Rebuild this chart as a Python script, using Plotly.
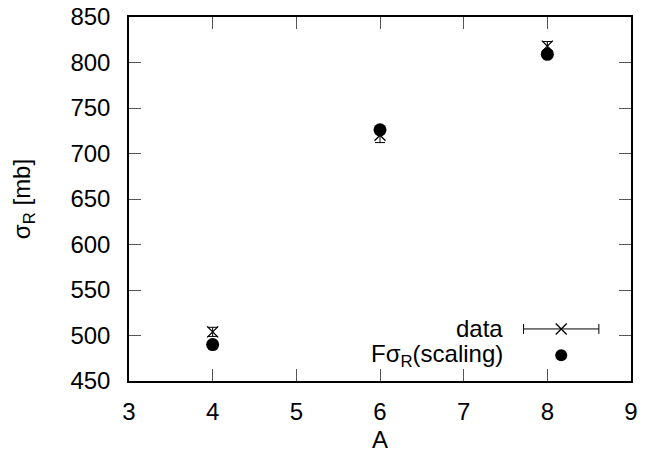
import plotly.graph_objects as go

A = [4, 6, 8]
data_sigma = [504, 720, 818]
data_err = [5, 8, 5]
scaling_sigma = [490, 726, 809]

x_ticks = [3, 4, 5, 6, 7, 8, 9]
y_ticks = [450, 500, 550, 600, 650, 700, 750, 800, 850]

FONT = "Liberation Sans, Arial, sans-serif"
FS = 24

fig = go.Figure()

fig.add_trace(go.Scatter(
    x=A, y=data_sigma, mode="markers",
    marker=dict(symbol="x-thin-open", size=11, line=dict(width=1.3, color="black"), color="black"),
    error_y=dict(type="data", array=data_err, visible=True, color="black", thickness=1, width=5),
    showlegend=False,
))
fig.add_trace(go.Scatter(
    x=A, y=scaling_sigma, mode="markers",
    marker=dict(symbol="circle", size=13, color="black"),
    showlegend=False,
))

# legend samples on an overlay axis (0..1 over the plot area)
fig.add_trace(go.Scatter(
    x=[0.861], y=[0.143], mode="markers", xaxis="x2", yaxis="y2",
    marker=dict(symbol="x-thin-open", size=11, color="black", line=dict(width=1.3, color="black")),
    error_x=dict(type="data", array=[0.075], visible=True, color="black", thickness=1, width=5),
    showlegend=False, hoverinfo="skip",
))
fig.add_trace(go.Scatter(
    x=[0.861], y=[0.071], mode="markers", xaxis="x2", yaxis="y2",
    marker=dict(symbol="circle", size=12, color="black"),
    showlegend=False, hoverinfo="skip",
))

fig.add_annotation(x=0.749, y=0.143, xref="paper", yref="paper", text="data",
                   showarrow=False, xanchor="right", yanchor="middle",
                   font=dict(family=FONT, size=FS, color="black"))
fig.add_annotation(x=0.749, y=0.071, xref="paper", yref="paper", text="Fσ<sub>R</sub>(scaling)",
                   showarrow=False, xanchor="right", yanchor="middle",
                   font=dict(family=FONT, size=FS, color="black"))

axis_common = dict(
    showgrid=False, zeroline=False, showline=True, linecolor="black", linewidth=1.5,
    mirror="allticks", ticks="inside", ticklen=12, tickwidth=1, tickcolor="#555555",
    tickfont=dict(family=FONT, size=FS, color="black"), automargin=False,
    ticklabeloverflow="allow",
)

fig.update_layout(
    width=642, height=448,
    paper_bgcolor="white", plot_bgcolor="white",
    margin=dict(l=121, r=19, t=9, b=75),
    xaxis=dict(range=[3, 9], tickvals=x_ticks, ticklabelstandoff=8,
               title=dict(text="A", font=dict(family=FONT, size=FS, color="black"), standoff=8),
               **axis_common),
    yaxis=dict(range=[450, 850], tickvals=y_ticks, ticklabelstandoff=12,
               title=dict(text="σ<sub>R</sub> [mb]", font=dict(family=FONT, size=FS, color="black"), standoff=40),
               **axis_common),
    xaxis2=dict(range=[0, 1], overlaying="x", visible=False),
    yaxis2=dict(range=[0, 1], overlaying="y", visible=False),
    showlegend=False,
)

fig.write_html("out.html")
